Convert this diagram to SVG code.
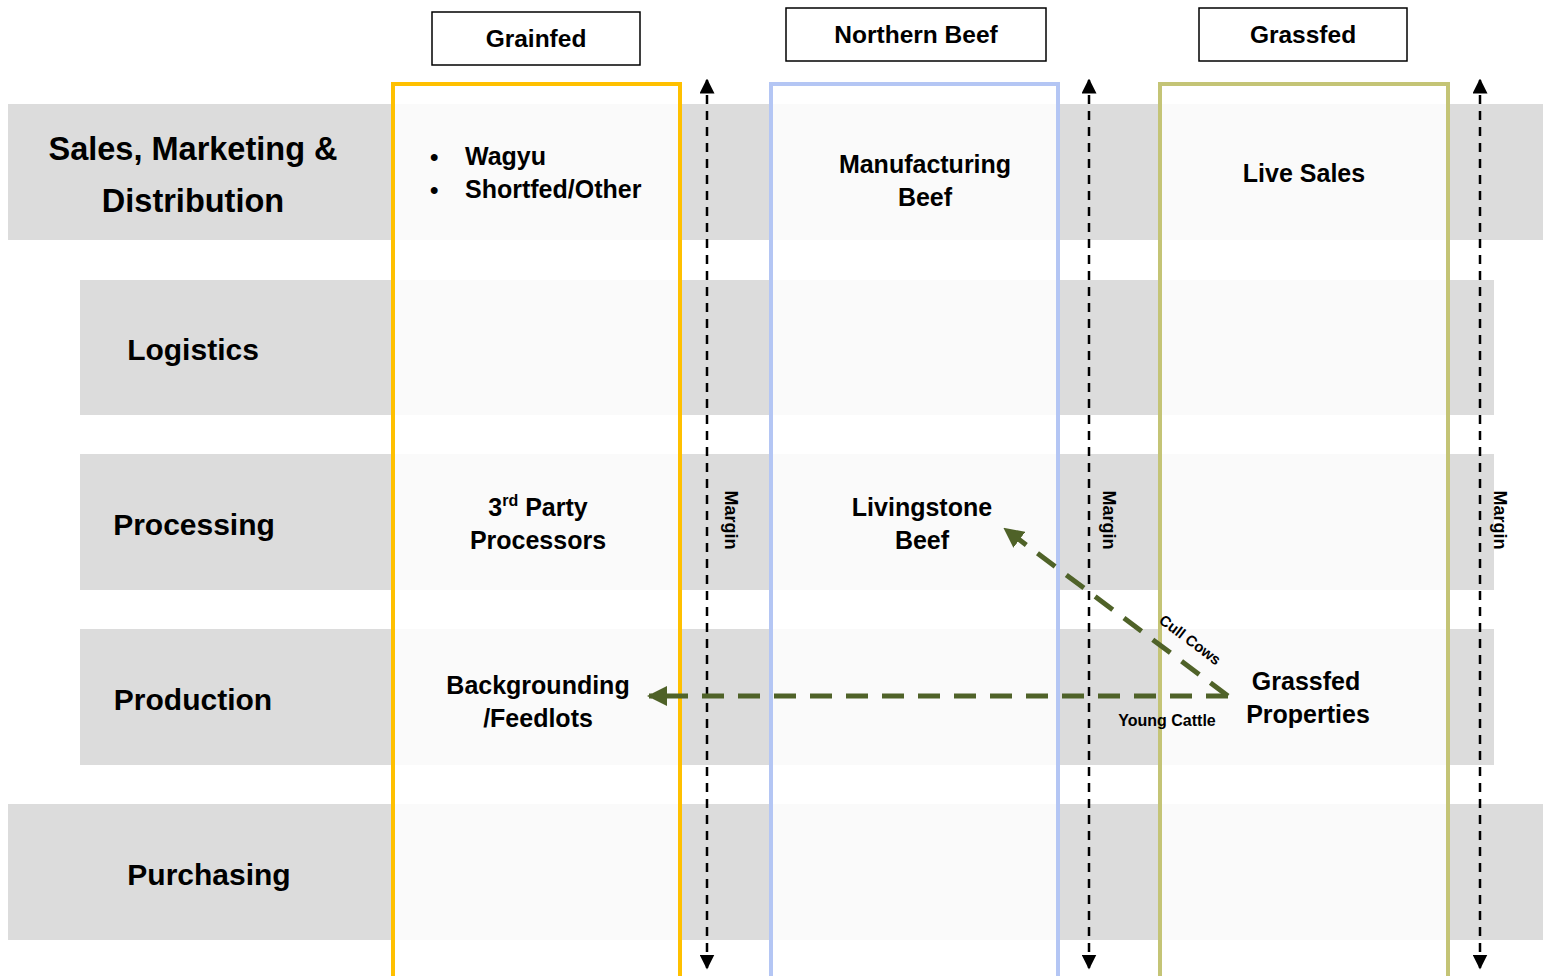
<svg xmlns="http://www.w3.org/2000/svg" width="1543" height="976" viewBox="0 0 1543 976">
<defs>
<style>
.band{fill:#DCDCDC}
.col{fill:#fff;fill-opacity:0.86;stroke-width:4}
.hdr{fill:#fff;stroke:#000;stroke-width:1.5}
.t{font-family:"Liberation Sans",Arial,sans-serif;font-weight:bold;fill:#000}
.row{font-size:30px;text-anchor:middle}
.row1{font-size:32.5px;text-anchor:middle}
.node{font-size:25px;text-anchor:middle}
.head{font-size:24.5px;text-anchor:middle}
.margin{font-size:18px;text-anchor:middle}
.marg{stroke:#000;stroke-width:2.5;stroke-dasharray:9,7;fill:none}
.flow{stroke:#4F6228;stroke-width:5;stroke-dasharray:22,14;fill:none}
</style>
<marker id="ab" viewBox="0 0 10 10" refX="9" refY="5" markerWidth="6" markerHeight="6" orient="auto-start-reverse" markerUnits="strokeWidth"><path d="M0,0 L10,5 L0,10 z" fill="#000"/></marker>
<marker id="ag" viewBox="0 0 10 10" refX="9" refY="5" markerWidth="4" markerHeight="4" orient="auto" markerUnits="strokeWidth"><path d="M0,0 L10,5 L0,10 z" fill="#4F6228"/></marker>
</defs>
<rect width="1543" height="976" fill="#fff"/>
<g id="bands">
<rect class="band" x="8" y="104" width="1535" height="136"/>
<rect class="band" x="80" y="280" width="1414" height="135"/>
<rect class="band" x="80" y="454" width="1414" height="136"/>
<rect class="band" x="80" y="629" width="1414" height="136"/>
<rect class="band" x="8" y="804" width="1535" height="136"/>
</g>
<g id="row-labels">
<text class="t row1" x="193" y="160">Sales, Marketing &amp;</text>
<text class="t row1" x="193" y="212">Distribution</text>
<text class="t row" x="193" y="360">Logistics</text>
<text class="t row" x="194" y="535">Processing</text>
<text class="t row" x="193" y="710">Production</text>
<text class="t row" x="209" y="885">Purchasing</text>
</g>
<g id="col-grainfed">
<rect class="col" x="393" y="84" width="287" height="900" stroke="#FFC000"/>
</g>
<g id="col-northern">
<rect class="col" x="771" y="84" width="287" height="900" stroke="#B4C6F4"/>
</g>
<g id="col-grassfed">
<rect class="col" x="1160" y="84" width="288" height="900" stroke="#C4C476"/>
</g>
<g id="hdr-grainfed">
<rect class="hdr" x="432" y="12" width="208" height="53"/>
<text class="t head" x="536" y="47">Grainfed</text>
</g>
<g id="hdr-northern">
<rect class="hdr" x="786" y="8" width="260" height="53"/>
<text class="t head" x="916" y="43">Northern Beef</text>
</g>
<g id="hdr-grassfed">
<rect class="hdr" x="1199" y="8" width="208" height="53"/>
<text class="t head" x="1303" y="43">Grassfed</text>
</g>
<g id="node-wagyu">
<text class="t" font-size="24" x="430" y="165">•</text>
<text class="t" font-size="25" x="465" y="165">Wagyu</text>
<text class="t" font-size="24" x="430" y="198">•</text>
<text class="t" font-size="25" x="465" y="198">Shortfed/Other</text>
</g>
<g id="node-manufacturing">
<text class="t node" x="925" y="173">Manufacturing</text>
<text class="t node" x="925" y="206">Beef</text>
</g>
<g id="node-live-sales">
<text class="t node" x="1304" y="182">Live Sales</text>
</g>
<g id="node-3rd-party">
<text class="t node" x="538" y="516">3<tspan font-size="16" dy="-10">rd</tspan><tspan dy="10"> Party</tspan></text>
<text class="t node" x="538" y="549">Processors</text>
</g>
<g id="node-livingstone">
<text class="t node" x="922" y="516">Livingstone</text>
<text class="t node" x="922" y="549">Beef</text>
</g>
<g id="node-backgrounding">
<text class="t node" x="538" y="694">Backgrounding</text>
<text class="t node" x="538" y="727">/Feedlots</text>
</g>
<g id="node-grassfed-properties">
<text class="t node" x="1306" y="690">Grassfed</text>
<text class="t node" x="1308" y="723">Properties</text>
</g>
<g id="connectors">
<line class="marg" x1="707" y1="968" x2="707" y2="80" marker-start="url(#ab)" marker-end="url(#ab)"/>
<line class="marg" x1="1089" y1="968" x2="1089" y2="80" marker-start="url(#ab)" marker-end="url(#ab)"/>
<line class="marg" x1="1480" y1="968" x2="1480" y2="80" marker-start="url(#ab)" marker-end="url(#ab)"/>
<text class="t margin" transform="translate(725,520) rotate(90)">Margin</text>
<text class="t margin" transform="translate(1103,520) rotate(90)">Margin</text>
<text class="t margin" transform="translate(1494,520) rotate(90)">Margin</text>
<path class="flow" d="M1228,696 L649,696" marker-end="url(#ag)"/>
<path class="flow" d="M1228,696 L1005,529" marker-end="url(#ag)"/>
<text class="t" font-size="15" text-anchor="middle" transform="translate(1187,644) rotate(37)">Cull  Cows</text>
<text class="t" font-size="16" text-anchor="middle" x="1167" y="726">Young Cattle</text>
</g>
</svg>
